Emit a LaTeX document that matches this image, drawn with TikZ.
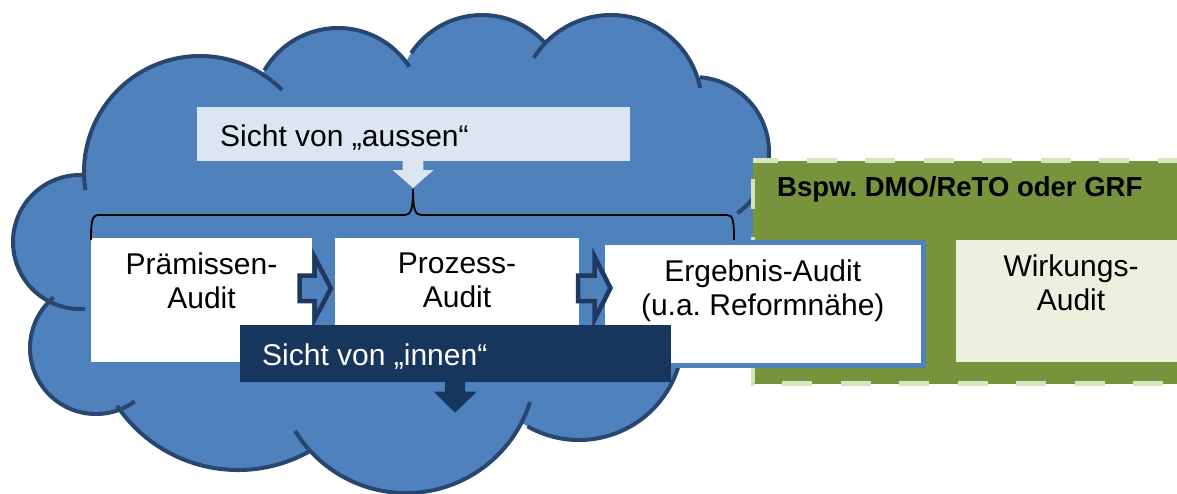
\documentclass[tikz,border=0pt]{standalone}
\usepackage{fontspec}
\setmainfont{Liberation Sans}
\usepackage{tikz}
\usetikzlibrary{positioning}
\frenchspacing

\definecolor{cloudfill}{RGB}{79,129,189}
\definecolor{cloudedge}{RGB}{41,70,112}
\definecolor{arrowedge}{RGB}{31,56,96}
\definecolor{innenblue}{RGB}{23,54,93}
\definecolor{aussenblue}{RGB}{220,230,242}
\definecolor{grfgreen}{RGB}{119,147,60}
\definecolor{grfdash}{RGB}{215,228,189}
\definecolor{wirkgreen}{RGB}{235,241,222}

\begin{document}
\begin{tikzpicture}[x=1pt, y=-1pt, font=\fontsize{30}{34}\selectfont]
\tikzstyle{audit} = [rectangle, fill=white, draw=cloudfill, line width=5pt, inner sep=0pt, outer sep=0pt, anchor=north west]
\tikzstyle{panel} = [rectangle, inner sep=0pt, outer sep=0pt, anchor=north west]
\tikzstyle{txt} = [inner sep=0pt, align=center]
\tikzstyle{blockarrow} = [fill=cloudfill, draw=arrowedge, line width=4.5pt, line join=miter]
\tikzstyle{cloudline} = [draw=cloudedge, line width=4pt]

\useasboundingbox (0,0) rectangle (1177,493);

% cloud: bumps filled, then outlined
\foreach \cx/\cy/\r in {200/172/116, 338/113/85, 482/100/85, 611/106/91, 694/152/75, 705/270/85, 579/336/104, 406/363/130, 238/324/146, 96/348/66, 80/242/67}
  \fill[cloudfill] (\cx,\cy) circle[radius=\r];
\fill[cloudfill] (200,172) -- (338,113) -- (482,100) -- (611,106) -- (694,152) -- (705,270) -- (579,336) -- (406,363) -- (238,324) -- (96,348) -- (80,242) -- cycle;
\foreach \cx/\cy/\r/\s/\e in {200/172/116/171/315, 338/113/85/210/327, 482/100/85/213.5/318, 611/106/91/212/348.6, 694/152/75/274.6/414.8, 579/336/104/119.7/-20, 406/363/130/148.5/17.5, 238/324/146/146/61, 96/348/66/230/54, 80/242/67/272/85.6}
  \draw[cloudline] (\cx,\cy) ++(\s:\r) arc[start angle=\s, end angle=\e, radius=\r];

% GRF frame
\node[panel, fill=grfgreen, minimum width=442pt, minimum height=223pt] (grf) at (753,160.5) {};
\draw[grfdash, line width=4.5pt, dash pattern=on 30pt off 28.5pt, dash phase=5pt] (grf.north west) -- (grf.north east) -- (grf.south east) -- (grf.south west) -- cycle;
\node[anchor=base west, inner sep=0pt, font=\bfseries\fontsize{27.5}{32}\selectfont] (grftitle) at (777,196.5) {Bspw. DMO/ReTO oder GRF};

\node[panel, fill=wirkgreen, minimum width=230pt, minimum height=122pt] (wirk) at (956,240) {};
\node[txt, below=15pt of wirk.north] (wirktxt) {Wirkungs-\\Audit};

% audit boxes
\node[audit, minimum width=226pt, minimum height=129pt] (praem) at (88.5,235.5) {};
\node[audit, minimum width=249pt, minimum height=129pt] (proz) at (332.5,235.5) {};
\node[audit, minimum width=320.5pt, minimum height=123pt] (ergeb) at (602.5,242.5) {};
\node[txt, below=17.5pt of praem.north] (praemtxt) {Prämissen-\\Audit};
\node[txt, below=17.5pt of proz.north] (proztxt) {Prozess-\\Audit};
\node[txt, below=17.5pt of ergeb.north] (ergebtxt) {Ergebnis-Audit\\(u.a. Reformnähe)};

\draw[blockarrow] (299.5,275.5) -- (314.5,275.5) -- (314.5,257) -- (331,288.3) -- (314.5,319.5) -- (314.5,301) -- (299.5,301) -- cycle;
\draw[blockarrow] (578,275.5) -- (594.5,275.5) -- (594.5,256.5) -- (610.5,288) -- (594.5,319.5) -- (594.5,301) -- (578,301) -- cycle;

% view from outside
\node[panel, fill=aussenblue, minimum width=433pt, minimum height=54pt] (aussen) at (197,107) {};
\node[anchor=base west, inner sep=0pt] (aussentxt) at (220,146.7) {Sicht von „aussen“};
\fill[aussenblue] (402.6,160) -- (423.3,160) -- (423.3,170) -- (433.6,170) -- (413,188) -- (392.6,170) -- (402.6,170) -- cycle;
\draw[line width=1.8pt] (91,240) .. controls (91,221) and (92,215) .. (99,215) -- (405,215) .. controls (411,215) and (413,209) .. (413,189) .. controls (413,209) and (415,215) .. (421,215) -- (727,215) .. controls (733,215) and (734,221) .. (734,240);

% view from inside
\node[panel, fill=innenblue, minimum width=431pt, minimum height=57pt] (innen) at (240,325) {};
\node[anchor=base west, inner sep=0pt, text=white] (innentxt) at (262,365) {Sicht von „innen“};
\fill[innenblue] (445,381) -- (465,381) -- (465,391.5) -- (477,391.5) -- (455,412.7) -- (433.5,391.5) -- (445,391.5) -- cycle;

\end{tikzpicture}
\end{document}
